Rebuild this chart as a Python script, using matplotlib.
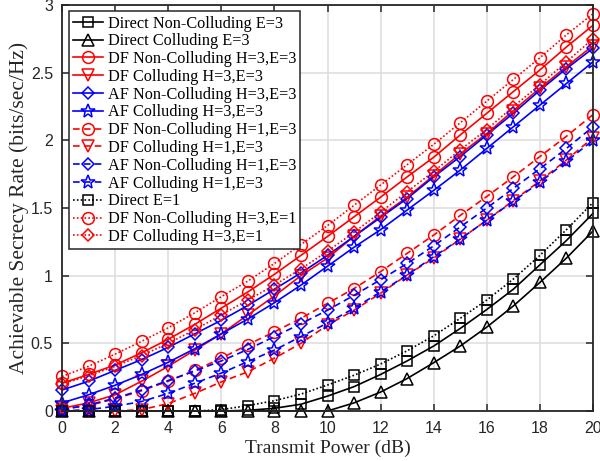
import numpy as np
import matplotlib
matplotlib.use("Agg")
import matplotlib.pyplot as plt

# transmit power (dB)
power = list(range(0, 21))

# E=3, solid lines
direct_nc_e3 = [0, 0, 0, 0, 0, 0, 0, 0.005, 0.02, 0.05, 0.11, 0.18, 0.27, 0.37, 0.48,
                0.61, 0.75, 0.90, 1.08, 1.26, 1.46]
direct_c_e3 = [0, 0, 0, 0, 0, 0, 0, 0, 0, 0, 0, 0.06, 0.14, 0.24, 0.357,
               0.48, 0.62, 0.776, 0.95, 1.13, 1.33]
df_nc_h3_e3 = [0.205, 0.27, 0.34, 0.43, 0.53, 0.64, 0.76, 0.88, 1.01, 1.15, 1.29,
               1.435, 1.58, 1.73, 1.875, 2.04, 2.20, 2.36, 2.52, 2.69, 2.85]
df_c_h3_e3 = [0.02, 0.06, 0.12, 0.22, 0.33, 0.45, 0.57, 0.71, 0.85, 1.0, 1.13,
              1.29, 1.44, 1.58, 1.74, 1.90, 2.05, 2.22, 2.385, 2.545, 2.70]
af_nc_h3_e3 = [0.155, 0.22, 0.30, 0.38, 0.47, 0.57, 0.67, 0.78, 0.90, 1.02, 1.15,
               1.29, 1.43, 1.57, 1.73, 1.88, 2.04, 2.20, 2.37, 2.53, 2.68]
af_c_h3_e3 = [0.06, 0.12, 0.19, 0.27, 0.36, 0.46, 0.57, 0.68, 0.80, 0.93, 1.07,
              1.21, 1.34, 1.485, 1.63, 1.78, 1.94, 2.10, 2.26, 2.42, 2.58]

# H=1, E=3, dashed lines
df_nc_h1_e3 = [0.015, 0.04, 0.09, 0.15, 0.22, 0.30, 0.39, 0.49, 0.585, 0.685, 0.795,
               0.905, 1.03, 1.165, 1.30, 1.445, 1.585, 1.73, 1.88, 2.03, 2.19]
df_c_h1_e3 = [0, 0, 0, 0.01, 0.055, 0.13, 0.215, 0.29, 0.39, 0.50, 0.635,
              0.745, 0.87, 1.005, 1.13, 1.27, 1.41, 1.555, 1.70, 1.855, 2.02]
af_nc_h1_e3 = [0.01, 0.045, 0.095, 0.155, 0.225, 0.295, 0.37, 0.455, 0.55, 0.645, 0.745,
               0.855, 0.97, 1.09, 1.22, 1.36, 1.50, 1.645, 1.79, 1.94, 2.10]
af_c_h1_e3 = [0, 0.01, 0.035, 0.07, 0.13, 0.205, 0.28, 0.365, 0.45, 0.55, 0.65,
              0.76, 0.88, 1.005, 1.14, 1.27, 1.41, 1.55, 1.69, 1.845, 2.0]

# E=1, dotted lines
direct_e1 = [0, 0, 0, 0, 0, 0, 0.01, 0.04, 0.076, 0.125, 0.192, 0.264, 0.347, 0.445,
             0.555, 0.685, 0.82, 0.975, 1.15, 1.34, 1.54]
df_nc_h3_e1 = [0.255, 0.33, 0.42, 0.515, 0.615, 0.725, 0.845, 0.96, 1.09, 1.23, 1.37,
               1.52, 1.67, 1.82, 1.97, 2.13, 2.29, 2.45, 2.61, 2.78, 2.935]
df_c_h3_e1 = [0.20, 0.26, 0.33, 0.41, 0.50, 0.60, 0.71, 0.82, 0.93, 1.05, 1.18,
              1.32, 1.47, 1.62, 1.77, 1.93, 2.08, 2.25, 2.41, 2.58, 2.75]

labels = ["Direct Non-Colluding E=3", "Direct Colluding E=3",
          "DF Non-Colluding H=3,E=3", "DF Colluding H=3,E=3",
          "AF Non-Colluding H=3,E=3", "AF Colluding H=3,E=3",
          "DF Non-Colluding H=1,E=3", "DF Colluding H=1,E=3",
          "AF Non-Colluding H=1,E=3", "AF Colluding H=1,E=3",
          "Direct E=1", "DF Non-Colluding H=3,E=1", "DF Colluding H=3,E=1"]

series = [direct_nc_e3, direct_c_e3, df_nc_h3_e3, df_c_h3_e3, af_nc_h3_e3, af_c_h3_e3,
          df_nc_h1_e3, df_c_h1_e3, af_nc_h1_e3, af_c_h1_e3,
          direct_e1, df_nc_h3_e1, df_c_h3_e1]

dash = (0, (4, 2.5))
dot = (0, (1, 1.3))
styles = [("k", "-", "s", 7), ("k", "-", "^", 8.5),
          ("r", "-", "o", 8.5), ("r", "-", "v", 8.5),
          ("b", "-", "D", 6.5), ("b", "-", "*", 10),
          ("r", dash, "o", 8.5), ("r", dash, "v", 8.5),
          ("b", dash, "D", 6.5), ("b", dash, "*", 10),
          ("k", dot, "s", 7), ("r", dot, "o", 8.5),
          ("r", dot, "D", 6.5)]

fig = plt.figure(figsize=(6, 4.61), dpi=100)
ax = fig.add_axes([62 / 600, 50 / 461, 531 / 600, 406 / 461])

for y, lab, (c, ls, m, ms) in zip(series, labels, styles):
    ax.plot(power, y, color=c, linestyle=ls, marker=m, markersize=ms,
            markerfacecolor="none", markeredgewidth=1.1, linewidth=1.2,
            label=lab, clip_on=False, zorder=3)

ax.set_xlim(0, 20)
ax.set_ylim(0, 3)
ax.set_xticks(range(0, 21, 2))
ax.set_yticks([0, 0.5, 1, 1.5, 2, 2.5, 3])
ax.set_yticklabels(["0", "0.5", "1", "1.5", "2", "2.5", "3"])
ax.grid(True, color="#dddddd", linewidth=1.1)
ax.set_axisbelow(True)
for s in ax.spines.values():
    s.set_linewidth(1.3)
    s.set_color("#262626")
    s.set_zorder(4)
ax.tick_params(direction="in", top=True, right=True, length=5, width=1.1,
               colors="#262626", labelsize=11.5)
ax.tick_params(axis="x", pad=7.5)
ax.tick_params(axis="y", pad=6.5)
for t in ax.get_xticklabels() + ax.get_yticklabels():
    t.set_fontfamily("Liberation Sans")
    t.set_color("#262626")

ax.set_xlabel("Transmit Power (dB)", fontfamily="Liberation Serif", fontsize=14,
              color="#262626", labelpad=2)
ax.set_ylabel("Achievable Secrecy Rate (bits/sec/Hz)", fontfamily="Liberation Serif",
              fontsize=15.5, color="#262626", labelpad=1)

leg = ax.legend(loc="upper left", prop={"family": "Liberation Serif", "size": 11.7},
                handlelength=1.9, handletextpad=0.25, labelspacing=0.11,
                borderaxespad=0.4, borderpad=0.25, fancybox=False, framealpha=1,
                edgecolor="#262626")
leg.get_frame().set_linewidth(1.1)
leg.set_zorder(5)

fig.savefig("out.png", dpi=100)
plt.close(fig)
